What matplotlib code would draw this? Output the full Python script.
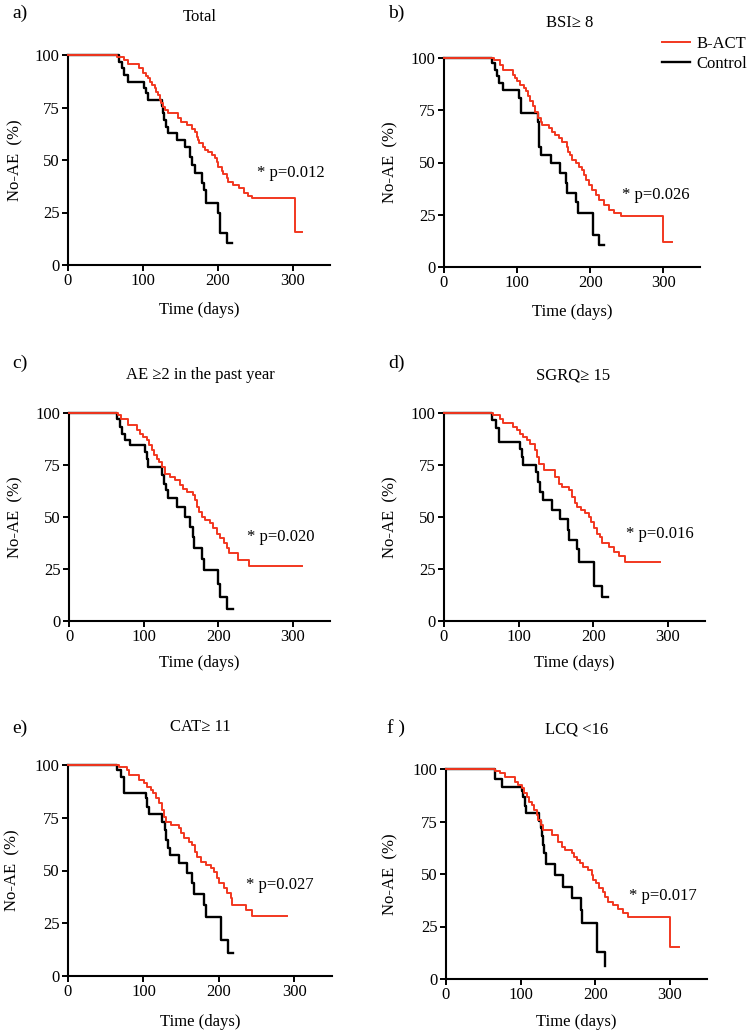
import matplotlib
matplotlib.use("Agg")
import matplotlib.pyplot as plt

plt.rcParams['font.family'] = ['Liberation Serif', 'DejaVu Serif']

# ---------------- data ----------------
panel_labels = ["a)", "b)", "c)", "d)", "e)", "f )"]
panel_titles = ["Total", "BSI\u2265 8", "AE \u22652 in the past year", "SGRQ\u2265 15", "CAT\u2265 11", "LCQ <16"]
p_texts = ["* p=0.012", "* p=0.026", "* p=0.020", "* p=0.016", "* p=0.027", "* p=0.017"]
series_names = ["B-ACT", "Control"]
x_ticks = [0, 100, 200, 300]
y_ticks = [0, 25, 50, 75, 100]

# Panel a  (Total)
a_ctrl_t = [0, 68, 72, 75, 80, 101, 104, 107, 125, 127, 128.5, 130.5, 133.5, 145, 156, 162.5, 166, 169, 178.5, 182, 185, 201, 203, 212, 219.5]
a_ctrl_s = [100, 96.8, 93.6, 90.5, 87.3, 84.1, 81.7, 78.6, 75.7, 72.2, 69, 65.9, 62.7, 59.5, 56.3, 51.6, 47.6, 43.7, 38.9, 35.7, 29.7, 24.6, 15.1, 10.6, 10.6]
a_bact_t = [0, 65, 75.3, 79.8, 95.5, 100, 103.6, 106.7, 109.9, 112.6, 115.7, 117.9, 120.2, 122.4, 124.7, 126.9, 129.1, 133.6, 147, 151.6, 159.2, 165, 169.5, 171.7, 174, 175.3, 179.8, 183, 187.4, 192, 196.4, 198.7, 200.9, 205.4, 207.6, 212.1, 214.3, 221, 228, 234.5, 240, 245.7, 303, 313]
a_bact_s = [100, 99, 97.6, 95.5, 93.6, 91.3, 90, 88.9, 87.3, 85.7, 84.1, 82.5, 81, 78.6, 77, 75.4, 74, 72.2, 69.8, 68.3, 66.7, 65, 63.5, 61, 59.5, 57.9, 56.3, 55, 54, 52.4, 50.8, 49.2, 46.8, 44.9, 43.3, 41.3, 39.7, 38.1, 36.5, 34.5, 33, 31.7, 15.9, 15.9]

# Panel b  (BSI >= 8)
b_ctrl_t = [0, 65.5, 69.2, 72.4, 74.7, 80.2, 102.2, 105.4, 128.3, 129.6, 130.5, 132.5, 145.7, 158, 166.3, 168.6, 180, 183.2, 203.4, 211.7, 218.6]
b_ctrl_s = [100, 97.6, 94.4, 91.2, 88, 84.8, 80.8, 73.6, 69.6, 62.4, 57.6, 53.6, 49.6, 44.8, 40, 35.5, 31.2, 25.6, 15.2, 10.4, 10.4]
b_bact_t = [0, 68, 76, 80, 94, 96.5, 100, 104, 109, 112, 115, 118, 121.5, 125, 128, 132, 134, 143, 148, 152, 157, 161.5, 168.5, 170, 172, 175.5, 180, 184.5, 188, 191, 193.5, 198, 203, 207.5, 212, 219, 226, 233, 242, 300, 312]
b_bact_s = [100, 99.2, 96.8, 94.4, 92, 90.4, 88.8, 87.2, 85.6, 84, 81.6, 79.2, 76.8, 74.4, 71.2, 69.6, 68, 66.4, 64.8, 63.2, 61.6, 60, 57.6, 55.2, 53.6, 51.2, 49.6, 48, 46.4, 44, 41.6, 39.2, 36.8, 34.4, 32, 29.6, 27.2, 26, 24.3, 12, 12]

# Panel c  (AE >= 2 in the past year)
c_ctrl_t = [0, 64.6, 68.2, 71.7, 74.9, 81.6, 101.8, 104, 106.3, 124.2, 127.4, 129.6, 133.2, 144.4, 155.6, 162.3, 165.9, 167.7, 178, 181.2, 200.4, 202.7, 211.7, 219.7]
c_ctrl_s = [100, 97.3, 93.3, 90, 87, 84.5, 81.3, 78, 74, 70, 66, 62.9, 58.9, 54.9, 50, 45.3, 40.5, 34.9, 30, 24.5, 18, 11.7, 6, 6]
c_bact_t = [0, 65.9, 70.4, 79.4, 90.6, 95, 99.6, 104, 107.6, 110.8, 113.9, 117.5, 121, 124.2, 128.7, 135.4, 142.2, 148.9, 153.4, 157.8, 166.8, 169, 171.3, 174.9, 178, 182.5, 189.2, 193.7, 198.2, 202.7, 208, 211.7, 215.2, 226, 240.8, 312.5]
c_bact_s = [100, 98.9, 97.3, 94, 91.7, 90, 88.5, 86.9, 84.5, 82, 79.7, 78, 76.5, 74, 70.9, 69.3, 67.7, 65.3, 63.7, 62, 60.5, 58, 55, 52.5, 50, 48.5, 46.9, 44.5, 42, 39.7, 37.3, 34.9, 32.5, 29.3, 26.4, 26.4]

# Panel d  (SGRQ >= 15)
d_ctrl_t = [0, 64.9, 69.4, 73.9, 102.1, 104.3, 106.6, 123.2, 126.7, 129, 132.1, 144.6, 155.8, 166.1, 167.9, 178.2, 181.4, 201.5, 212, 220]
d_ctrl_s = [100, 96.8, 93, 86, 82.9, 78.9, 75.2, 71.7, 66.9, 62, 58, 53.6, 48.8, 43.7, 38.9, 34.4, 28.5, 16.8, 11.5, 11.5]
d_bact_t = [0, 66.3, 75.2, 79.7, 93.1, 97.6, 102.1, 106.6, 111.1, 115.5, 121.4, 124.5, 127.6, 133.5, 149.1, 153.6, 158.1, 167, 171.5, 175.1, 178.2, 184.1, 189.4, 193.9, 197.5, 200.6, 205.1, 209.6, 211.8, 220.8, 227.5, 234.2, 243.2, 290]
d_bact_s = [100, 98.9, 97.3, 95.2, 93.3, 91.7, 90, 88.5, 86.9, 85.3, 82, 78.9, 75.7, 72.5, 69.3, 66, 64.5, 62.9, 59.7, 56.5, 54.9, 53.3, 51.7, 50, 47.7, 44.5, 42, 40.5, 37.3, 35.7, 33.3, 31.2, 28.5, 28.5]

# Panel e  (CAT >= 11)
e_ctrl_t = [0, 65.1, 70.4, 74.9, 103.7, 105, 107.2, 124.9, 128.5, 130.3, 132.5, 135.1, 147.1, 158.2, 164.8, 167, 180.3, 183.4, 202.7, 212.5, 219.2]
e_ctrl_s = [100, 97.6, 94.5, 86.9, 84.2, 80.3, 76.6, 73.1, 69.2, 64.5, 60.5, 57.3, 53.4, 48.6, 43.9, 38.7, 33.6, 28, 17.1, 11.1, 11.1]
e_bact_t = [0, 67.3, 78.4, 80.6, 93.9, 100.6, 105, 109.4, 113, 116.1, 120.5, 124.9, 127.2, 130.3, 136, 147.1, 149.3, 153.7, 160.4, 164.8, 167.9, 171.5, 175.9, 182.5, 189.2, 193.6, 198, 200.3, 206.9, 211.3, 215.8, 218, 235.7, 244.6, 290]
e_bact_s = [100, 99.2, 97.6, 95.3, 92.9, 91.3, 89.7, 88.2, 86.6, 84.2, 81.8, 78.7, 75.5, 73.1, 71.6, 70, 67.6, 65.2, 63.7, 62.1, 59, 56.6, 54.2, 52.6, 51, 49.4, 46.3, 43.9, 41.5, 39.2, 36.8, 33.6, 31.3, 28.6, 28.6]

# Panel f  (LCQ < 16)
f_ctrl_t = [0, 66, 75, 101.3, 103.6, 105.4, 107.6, 124.7, 126.9, 128.3, 130, 131.4, 133.6, 146, 157, 168.5, 180.5, 183, 202, 213, 213]
f_ctrl_s = [100, 95.2, 91.6, 89.7, 86.5, 82.5, 78.9, 75.4, 72, 68, 64, 60, 54.8, 49.5, 44, 38.5, 33, 26.5, 13, 6, 6]
f_bact_t = [0, 66, 72.7, 79.4, 92.7, 97.2, 101.6, 105.2, 108.3, 111.5, 115, 118.6, 121.7, 123.9, 127.1, 130.6, 141.8, 150.7, 155.1, 159.6, 168.5, 172.1, 175.2, 179.7, 184.1, 190.8, 195.3, 197.5, 200.6, 205.1, 210, 213.1, 217.6, 224.3, 231, 237.6, 244.3, 301, 312]
f_bact_s = [100, 99.2, 97.9, 96.3, 94, 92.4, 90.8, 88.4, 86.8, 84.4, 82.9, 80.5, 78.1, 75.7, 73.3, 70.9, 68.6, 65.4, 63, 61.4, 59.8, 58.3, 56.7, 55.1, 53.5, 51.9, 49.5, 47.1, 45.6, 43.2, 41.6, 39.2, 36.8, 35.2, 33.2, 31.3, 29.4, 15.1, 15.1]

ctrl_t = [a_ctrl_t, b_ctrl_t, c_ctrl_t, d_ctrl_t, e_ctrl_t, f_ctrl_t]
ctrl_s = [a_ctrl_s, b_ctrl_s, c_ctrl_s, d_ctrl_s, e_ctrl_s, f_ctrl_s]
bact_t = [a_bact_t, b_bact_t, c_bact_t, d_bact_t, e_bact_t, f_bact_t]
bact_s = [a_bact_s, b_bact_s, c_bact_s, d_bact_s, e_bact_s, f_bact_s]

# ---------------- layout (pixel boxes: left, right, top, bottom) ----------------
W, H = 750, 1035
boxes = [(68, 330, 55, 265), (444, 700, 58, 267),
         (69, 330, 413, 621), (444, 705, 413, 621),
         (68, 332, 765, 976), (446, 707, 769, 979)]
title_pos = [(200, 17), (570, 23), (200, 375), (573, 375), (200, 727), (577, 730)]
label_pos = [(12, 13), (388, 13), (12, 363), (388, 363), (12, 728), (387, 728)]
xlabel_y = [310, 312, 663, 663, 1022, 1022]
ylabel_x = [15, 390, 15, 390, 12, 390]
ptext_pos = [(252.5, 43.8), (243, 34.4), (238.7, 40.5), (243.6, 41.8), (236, 43.1), (245.4, 39.5)]

RED = '#f2371f'
fig = plt.figure(figsize=(W / 100, H / 100), dpi=100)

for i in range(6):
    l, r, t, b = boxes[i]
    ax = fig.add_axes([l / W, 1 - b / H, (r - l) / W, (b - t) / H])
    ax.step(ctrl_t[i], ctrl_s[i], where='post', color='black', lw=1.7, clip_on=False, zorder=3, label=series_names[1])
    ax.step(bact_t[i], bact_s[i], where='post', color=RED, lw=1.4, clip_on=False, zorder=4, label=series_names[0])
    ax.set_xlim(0, 350)
    ax.set_ylim(0, 100)
    ax.set_xticks(x_ticks)
    ax.set_yticks(y_ticks)
    for s in ['top', 'right']:
        ax.spines[s].set_visible(False)
    for s in ['left', 'bottom']:
        ax.spines[s].set_linewidth(1.5)
    ax.tick_params(direction='out', length=4, width=1.4, labelsize=12, pad=2)
    ax.set_xlabel("Time (days)", fontsize=12, va='center')
    ax.xaxis.set_label_coords(0.5, -(xlabel_y[i] - b) / (b - t))
    ax.set_ylabel("No-AE  (%)", fontsize=12, va='center')
    ax.yaxis.set_label_coords((ylabel_x[i] - l) / (r - l), 0.5)
    ax.text(ptext_pos[i][0], ptext_pos[i][1], p_texts[i], fontsize=12, va='center', ha='left')
    fig.text(title_pos[i][0] / W, 1 - title_pos[i][1] / H, panel_titles[i], fontsize=12, ha='center', va='center')
    fig.text(label_pos[i][0] / W, 1 - label_pos[i][1] / H, panel_labels[i], fontsize=14, ha='left', va='center')
    if i == 1:
        h, lab = ax.get_legend_handles_labels()
        ax.legend(h[::-1], lab[::-1], loc='upper left', bbox_to_anchor=(0.85, 1.105), frameon=False,
                  fontsize=12, handlelength=1.7, handletextpad=0.4, labelspacing=0.25, borderaxespad=0, borderpad=0)

fig.savefig("out.png", dpi=100)
